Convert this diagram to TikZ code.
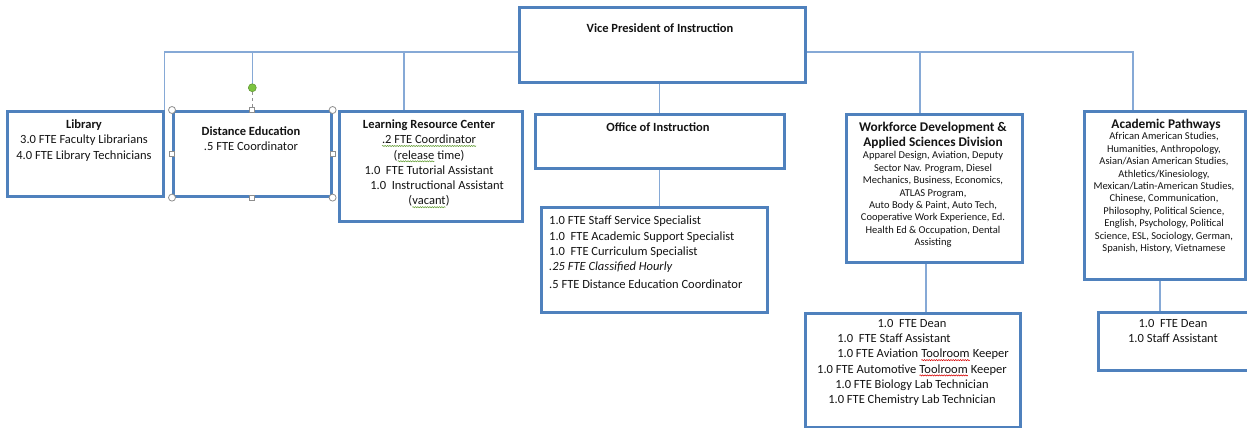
\documentclass[tikz,border=0pt]{standalone}
\usepackage{fontspec}
\setmainfont{Carlito}
\usetikzlibrary{positioning,backgrounds,decorations.pathmorphing}
\definecolor{cbox}{HTML}{4F81BD}
\definecolor{cline}{HTML}{86A9D6}
\definecolor{ctxt}{HTML}{141414}
\definecolor{cgrn}{HTML}{7CC440}
\definecolor{chdl}{HTML}{8E8E8E}
% wavy spell-check marks under a word
\newcommand\spellmark[2]{\tikz[baseline=(w.base)]{\node[inner sep=0pt,outer sep=0pt] (w) {#2};
  \draw[#1,line width=0.55pt,decorate,decoration={snake,amplitude=0.55pt,segment length=2.4pt}]
    ([yshift=-2.2pt]w.base west) -- ([yshift=-2.2pt]w.base east);}}
\newcommand\gwave[1]{\spellmark{cgrn!80!black}{#1}}
\newcommand\rwave[1]{\spellmark{red!85!black}{#1}}

\begin{document}
\begin{tikzpicture}[x=1pt,y=-1pt,
    font=\fontsize{12.5}{15.3}\selectfont,text=ctxt,
    box/.style={draw=cbox,line width=2.6pt,fill=white,inner sep=0pt,anchor=north west},
    txt/.style={inner sep=0pt,align=center,anchor=north},
    bighd/.style={font=\fontsize{13.3}{15.2}\selectfont\bfseries},
    sm/.style={font=\fontsize{10.5}{12.4}\selectfont},
    conn/.style={draw=cline,line width=1.3pt},
    hcorner/.style={circle,draw=chdl,fill=white,line width=0.8pt,inner sep=0pt,minimum size=7pt},
    hside/.style={rectangle,draw=chdl,fill=white,line width=0.8pt,inner sep=0pt,minimum size=5pt},
    hrot/.style={circle,draw=cgrn!75!black,fill=cgrn,line width=0.5pt,inner sep=0pt,minimum size=8pt}]
  \useasboundingbox (0,0) rectangle (1247,428);

  % ---- boxes
  \node[box,minimum width=286pt,minimum height=75pt] (vp) at (518,6) {};
  \node[box,minimum width=156pt,minimum height=85pt] (lib) at (6,110) {};
  \node[box,minimum width=158pt,minimum height=85pt] (de) at (172,110) {};
  \node[box,minimum width=183pt,minimum height=110pt] (lrc) at (338,110) {};
  \node[box,minimum width=249pt,minimum height=54pt] (off) at (534,113) {};
  \node[box,minimum width=226pt,minimum height=105pt] (osub) at (540,206) {};
  \node[box,minimum width=176pt,minimum height=148pt] (wd) at (845,113) {};
  \node[box,minimum width=215pt,minimum height=114pt] (wsub) at (804,312) {};
  \node[box,minimum width=161pt,minimum height=168pt] (ap) at (1083,110) {};
  \node[box,minimum width=156pt,minimum height=58pt] (asub) at (1097,311) {};

  % ---- box texts
  \node[txt] (vpT) at (660,24) {\textbf{Vice President of Instruction}};
  \node[txt] (libT) at (84,119.5) {\textbf{Library}\\3.0 FTE Faculty Librarians\\4.0 FTE Library Technicians};
  \node[txt] (deT) at (251,126.5) {\textbf{Distance Education}\\.5 FTE Coordinator};
  \node[txt] (lrcT) at (429,119.5) {\textbf{Learning Resource Center}\\
    \gwave{.2 FTE Coordinator}\\(\gwave{release} time)\\1.0\ \ FTE Tutorial Assistant\\
    \hspace*{16pt}1.0\ \ Instructional Assistant\\(\gwave{vacant})};
  \node[txt] (offT) at (658,122.5) {\textbf{Office of Instruction}};
  \node[txt,align=left,anchor=north west] (osubT) at (549,216) {1.0 FTE Staff Service Specialist\\
    1.0\ \ FTE Academic Support Specialist\\1.0\ \ FTE Curriculum Specialist\\
    \textit{.25 FTE Classified Hourly}\\[2.6pt].5 FTE Distance Education Coordinator};
  \node[txt,bighd] (wdT) at (933,122) {Workforce Development \&\\Applied Sciences Division};
  \node[txt,sm] (wdL) at (933,151.5) {Apparel Design, Aviation, Deputy\\Sector Nav. Program, Diesel\\
    Mechanics, Business, Economics,\\ATLAS Program,\\Auto Body \& Paint, Auto Tech,\\
    Cooperative Work Experience, Ed.\\Health Ed \& Occupation, Dental\\Assisting};
  \node[txt,bighd] (apT) at (1166,119) {Academic Pathways};
  \node[txt,sm] (apL) at (1164,132.5) {African American Studies,\\Humanities, Anthropology,\\
    Asian/Asian American Studies,\\Athletics/Kinesiology,\\Mexican/Latin-American Studies,\\
    Chinese, Communication,\\Philosophy,\ Political Science,\\English, Psychology, Political\\
    Science, ESL, Sociology, German,\\Spanish, History, Vietnamese};
  \node[txt] (wsubT) at (912,319) {1.0\ \ FTE Dean\\\hspace*{-36pt}1.0\ \ FTE Staff Assistant\\
    \hspace*{22pt}1.0 FTE Aviation \rwave{Toolroom} Keeper\\1.0 FTE Automotive \rwave{Toolroom} Keeper\\
    1.0 FTE Biology Lab Technician\\1.0 FTE Chemistry Lab Technician};
  \node[txt] (asubT) at (1173,319) {1.0\ \ FTE Dean\\1.0 Staff Assistant};

  % ---- selection handles on Distance Education
  \foreach \a [count=\i] in {north west,north east,south west,south east}
    \node[hcorner] (hc\i) at (de.\a) {};
  \foreach \a [count=\i] in {north,south,west,east}
    \node[hside] (hs\i) at (de.\a) {};
  \node[hrot,above=18pt of de.north] (rot) {};
  \draw[chdl,dashed,line width=0.8pt] (rot) -- (hs1);

  % ---- connectors
  \begin{scope}[on background layer]
    \coordinate (busy) at (0,52);
    \coordinate (lrcup) at (404,52);
    \coordinate (wdup) at (920,52);
    \coordinate (apup) at (1133,52);
    \draw[conn] (lib.north east) |- (vp.west |- busy);
    \draw[conn] (rot) -- (rot |- busy);
    \draw[conn] (lrcup) -- (lrcup |- lrc.north);
    \draw[conn] (vp.east |- busy) -- (apup) -- (apup |- ap.north);
    \draw[conn] (wdup) -- (wdup |- wd.north);
    \draw[conn] (vp.south -| off.north) -- (off.north);
    \draw[conn] (off.south) -- (off.south |- osub.north);
    \coordinate (wddn) at (926,262);
    \draw[conn] (wddn) -- (wddn |- wsub.north);
    \coordinate (apdn) at (1160,278);
    \draw[conn] (apdn) -- (apdn |- asub.north);
  \end{scope}
\end{tikzpicture}
\end{document}
